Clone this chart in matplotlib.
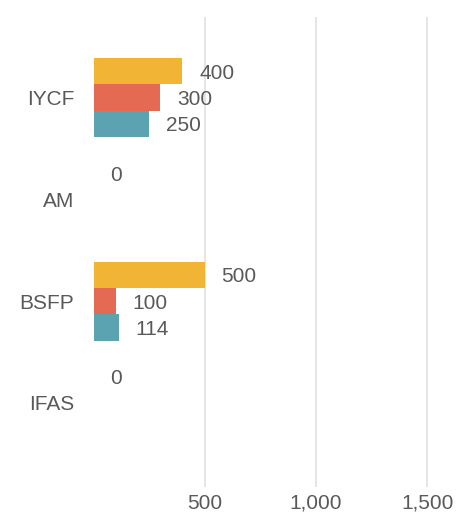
import numpy as np
import matplotlib
matplotlib.use("Agg")
from matplotlib import pyplot as plt
from matplotlib.ticker import FuncFormatter

categories = ["IYCF", "AM", "BSFP", "IFAS"]
# None = no bar and no label for that series
series_a = [400, 0, 500, 0]
series_b = [300, None, 100, None]
series_c = [250, None, 114, None]
colors = ["#F2B434", "#E46A54", "#5BA3B0"]

plt.rcParams['font.family'] = ['Liberation Sans', 'DejaVu Sans']
text_color = "#595959"

W, H = 459, 515
fig = plt.figure(figsize=(W / 100, H / 100), dpi=100)
left, right, top, bottom = 93.5, 450, 17, 487
ax = fig.add_axes([left / W, 1 - bottom / H, (right - left) / W, (bottom - top) / H])

y = np.arange(len(categories))
bar_h = 0.2585
for k, (vals, col) in enumerate(zip([series_a, series_b, series_c], colors)):
    offs = (k - 1) * bar_h
    for i, v in enumerate(vals):
        if v is None:
            continue
        ax.barh(y[i] + offs, v, height=bar_h, color=col, zorder=3)
        ax.annotate(f"{v:,}", (v, y[i] + offs), xytext=(12, -1.5), textcoords="offset points",
                    va="center", ha="left", fontsize=15, color=text_color)

ax.set_xlim(0, 1603)
ax.set_ylim(3.825, -0.79)
ax.set_xticks([500, 1000, 1500])
ax.xaxis.set_major_formatter(FuncFormatter(lambda v, p: f"{int(v):,}"))
ax.set_yticks(y)
ax.set_yticklabels(categories)
ax.tick_params(axis="both", length=0, labelsize=15, labelcolor=text_color)
ax.tick_params(axis="x", pad=5)
ax.tick_params(axis="y", pad=14)
ax.grid(axis="x", color="#E3E3E3", linewidth=1.3, zorder=0)
for s in ax.spines.values():
    s.set_visible(False)

fig.savefig("out.png", dpi=100)
